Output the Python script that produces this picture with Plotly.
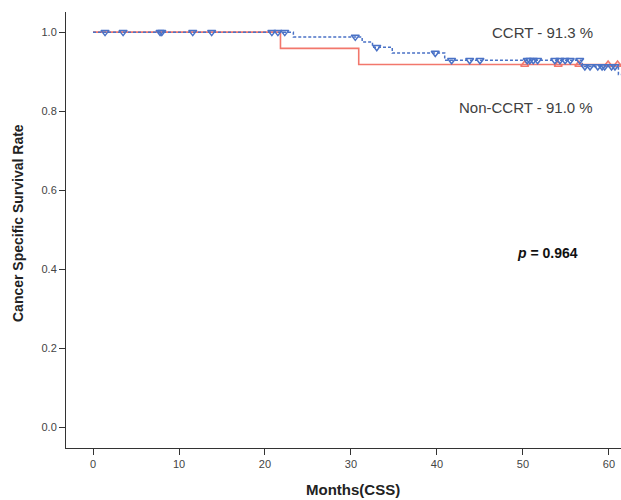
import plotly.graph_objects as go

# CCRT (blue) Kaplan-Meier steps
ccrt_times = [0, 23.3, 31.3, 32.5, 34.8, 40.9, 56.9, 61.1]
ccrt_surv = [1.0, 0.988, 0.975, 0.962, 0.947, 0.929, 0.913, 0.893]
ccrt_censor = [1.4, 3.5, 7.8, 8.0, 11.6, 13.8, 20.8, 21.5, 22.3, 30.5, 33.0, 39.8,
               41.7, 43.8, 45.0, 50.5, 50.8, 51.2, 51.7, 53.7, 54.3, 54.9, 55.5, 56.6,
               57.2, 57.8, 58.7, 59.2, 59.5, 60.3, 60.7]

# Non-CCRT (red) Kaplan-Meier steps
non_times = [0, 21.8, 30.9]
non_surv = [1.0, 0.959, 0.918]
non_censor = [50.2, 54.1, 56.5, 59.9, 61.0]

x_end = 61.5
x_ticks = [0, 10, 20, 30, 40, 50, 60]
y_ticks = [0.0, 0.2, 0.4, 0.6, 0.8, 1.0]

BLUE = "#4a72c6"
RED = "#f2776c"


def surv_at(times, surv, t):
    s = surv[0]
    for ti, si in zip(times, surv):
        if ti <= t:
            s = si
    return s


fig = go.Figure()

fig.add_trace(go.Scatter(
    x=non_times + [x_end], y=non_surv + [non_surv[-1]],
    mode="lines", line=dict(color=RED, width=1.6, shape="hv"), showlegend=False))
fig.add_trace(go.Scatter(
    x=ccrt_times + [x_end], y=ccrt_surv + [ccrt_surv[-1]],
    mode="lines", line=dict(color=BLUE, width=1.5, shape="hv", dash="3px,2px"),
    showlegend=False))
fig.add_trace(go.Scatter(
    x=non_censor, y=[surv_at(non_times, non_surv, t) for t in non_censor],
    mode="markers",
    marker=dict(symbol="triangle-up-open", size=7, color=RED, line=dict(width=1.5)),
    showlegend=False))
fig.add_trace(go.Scatter(
    x=ccrt_censor, y=[surv_at(ccrt_times, ccrt_surv, t) for t in ccrt_censor],
    mode="markers",
    marker=dict(symbol="triangle-down-open", size=7, color=BLUE, line=dict(width=1.5)),
    showlegend=False))

FONT = "Liberation Sans, Arial, sans-serif"

fig.add_annotation(x=58.4, y=1.0, xref="x", yref="y", text="CCRT - 91.3 %",
                   showarrow=False, xanchor="right", yanchor="middle",
                   font=dict(size=15, color="#404040", family=FONT))
fig.add_annotation(x=58.4, y=0.808, xref="x", yref="y", text="Non-CCRT - 91.0 %",
                   showarrow=False, xanchor="right", yanchor="middle",
                   font=dict(size=15, color="#404040", family=FONT))
fig.add_annotation(x=52.9, y=0.44, xref="x", yref="y", text="<b><i>p</i> = 0.964</b>",
                   showarrow=False, xanchor="center", yanchor="middle",
                   font=dict(size=14, color="#111111", family=FONT))
fig.add_annotation(x=0.517, y=-0.096, xref="paper", yref="paper", text="<b>Months(CSS)</b>",
                   showarrow=False, xanchor="center", yanchor="middle",
                   font=dict(size=15, color="#222222", family=FONT))
fig.add_annotation(x=-0.0865, y=0.516, xref="paper", yref="paper",
                   text="<b>Cancer Specific Survival Rate</b>", textangle=-90,
                   showarrow=False, xanchor="center", yanchor="middle",
                   font=dict(size=14, color="#222222", family=FONT))

fig.update_xaxes(range=[-3.14, 61.4], tickvals=x_ticks, ticks="outside", ticklen=6,
                 tickcolor="#333", showline=True, linecolor="#333", linewidth=1,
                 showgrid=False, zeroline=False,
                 tickfont=dict(size=11, color="#444", family=FONT))
fig.update_yaxes(range=[-0.053, 1.051], tickvals=y_ticks, tickformat=".1f",
                 ticks="outside", ticklen=6, tickcolor="#333", showline=True,
                 linecolor="#333", linewidth=1, showgrid=False, zeroline=False,
                 tickfont=dict(size=11, color="#444", family=FONT))

fig.update_layout(width=621, height=500, margin=dict(l=66, r=0, t=12, b=52),
                  plot_bgcolor="white", paper_bgcolor="white")

fig.write_html(
    "out.html",
    config={"displayModeBar": False},
    post_script="document.body.style.margin='0';document.body.style.overflow='hidden';",
)
